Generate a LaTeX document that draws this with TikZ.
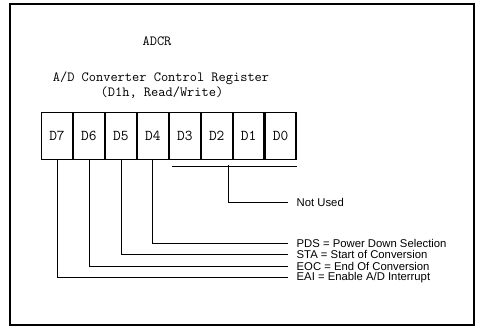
\documentclass[tikz,border=0pt]{standalone}
\usepackage{fontspec}
\setmainfont{Liberation Sans}
\begin{document}
\begin{tikzpicture}[x=1pt,y=-1pt,
  cell/.style={draw,line width=1.2pt,minimum width=30.75pt,minimum height=47pt,inner sep=0pt,font=\ttfamily\fontsize{15}{15}\selectfont,anchor=north west},
  lbl/.style={anchor=west,inner xsep=8.5pt,inner ysep=0pt,font=\fontsize{11.3}{12}\selectfont},
  title/.style={font=\ttfamily\fontsize{14}{15}\selectfont,inner sep=0pt},
  conn/.style={line width=0.7pt}]
\useasboundingbox (0,0) rectangle (479,329);
\draw[line width=1.2pt] (10,4) rectangle (474,325);
\node[title] (adcr) at (157,41) {ADCR};
\node[title] (t1) at (161,78) {A/D Converter Control Register};
\node[title] (t2) at (162,93) {(D1h, Read/Write)};
\node[cell] (d7) at (41,112) {D7};
\node[cell] (d6) at (d7.north east) {D6};
\node[cell] (d5) at (d6.north east) {D5};
\node[cell] (d4) at (d5.north east) {D4};
\node[cell] (d3) at (d4.north east) {D3};
\node[cell] (d2) at (d3.north east) {D2};
\node[cell] (d1) at (d2.north east) {D1};
\node[cell] (d0) at (d1.north east) {D0};
\node[lbl] (nu) at (288,202) {Not Used};
\node[lbl] (pds) at (288,243) {PDS = Power Down Selection};
\node[lbl] (sta) at (288,254.5) {STA = Start of Conversion};
\node[lbl] (eoc) at (288,266) {EOC = End Of Conversion};
\node[lbl] (eai) at (288,277.5) {EAI = Enable A/D Interrupt};
\coordinate (ua) at ([shift={(3,6)}]d3.south west);
\coordinate (ub) at ([shift={(0,6)}]d0.south east);
\draw[conn] (ua) -- (ub);
\coordinate (uc) at (228,165);
\draw[conn] (uc) |- (nu.west);
\draw[conn] (d4.south) |- (pds.west);
\draw[conn] (d5.south) |- (sta.west);
\draw[conn] (d6.south) |- (eoc.west);
\draw[conn] (d7.south) |- (eai.west);
\end{tikzpicture}
\end{document}
